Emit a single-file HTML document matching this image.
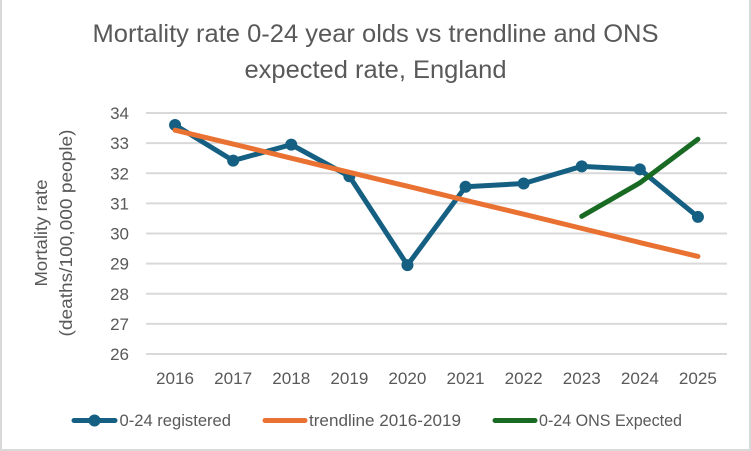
<!DOCTYPE html>
<html lang="en">
<head>
<meta charset="utf-8">
<title>Mortality rate chart</title>
<style>
html,body{margin:0;padding:0;background:#fff;width:751px;height:451px;overflow:hidden}
svg{display:block;font-family:"Liberation Sans",sans-serif}
</style>
</head>
<body>
<svg id="chart" width="751" height="451" viewBox="0 0 751 451" xmlns="http://www.w3.org/2000/svg">
<rect x="1" y="-2" width="749" height="452" fill="#fff" stroke="#d9d9d9" stroke-width="2"/>
<text x="375.500" y="42" text-anchor="middle" font-size="25" fill="#595959" textLength="566" lengthAdjust="spacingAndGlyphs">Mortality rate 0-24 year olds vs trendline and ONS</text>
<text x="375.500" y="78" text-anchor="middle" font-size="25" fill="#595959" textLength="262" lengthAdjust="spacingAndGlyphs">expected rate, England</text>
<text transform="translate(47,233) rotate(-90)" text-anchor="middle" font-size="17.500" fill="#595959" textLength="107" lengthAdjust="spacingAndGlyphs">Mortality rate</text>
<text transform="translate(72,233) rotate(-90)" text-anchor="middle" font-size="17.500" fill="#595959" textLength="207" lengthAdjust="spacingAndGlyphs">(deaths/100,000 people)</text>
<g id="grid"></g>
<g id="series"></g>
<g>
<line x1="74" y1="420.500" x2="115" y2="420.500" stroke="#156082" stroke-width="5" stroke-linecap="round"/>
<circle cx="94.500" cy="420.500" r="6" fill="#156082"/>
<text x="119.500" y="426" font-size="16.500" fill="#595959" textLength="111.500" lengthAdjust="spacingAndGlyphs">0-24 registered</text>
<line x1="265" y1="420.500" x2="305" y2="420.500" stroke="#e97132" stroke-width="5" stroke-linecap="round"/>
<text x="309" y="426" font-size="16.500" fill="#595959" textLength="152" lengthAdjust="spacingAndGlyphs">trendline 2016-2019</text>
<line x1="495" y1="420.500" x2="535" y2="420.500" stroke="#196b24" stroke-width="5" stroke-linecap="round"/>
<text x="539" y="426" font-size="16.500" fill="#595959" textLength="143" lengthAdjust="spacingAndGlyphs">0-24 ONS Expected</text>
</g>
</svg>
<script>
const categories = ["2016","2017","2018","2019","2020","2021","2022","2023","2024","2025"];
const yTickLabels = [26,27,28,29,30,31,32,33,34];
const registered = [33.6,32.42,32.95,31.9,28.95,31.55,31.66,32.23,32.13,30.55];
const trendline = [33.43,32.97,32.5,32.03,31.57,31.1,30.64,30.17,29.7,29.24];
const onsExpected = [null,null,null,null,null,null,null,30.57,31.68,33.13];

const NS = "http://www.w3.org/2000/svg";
const plotLeft = 146, plotRight = 727, plotTop = 113, plotBottom = 354;
const yMin = 26, yMax = 34;
function xScale(i){ return plotLeft + (i + 0.5) * (plotRight - plotLeft) / categories.length; }
function yScale(v){ return plotBottom - (v - yMin) * (plotBottom - plotTop) / (yMax - yMin); }
function make(tag, attrs, parent){
  const el = document.createElementNS(NS, tag);
  for (const k in attrs) el.setAttribute(k, attrs[k]);
  parent.appendChild(el);
  return el;
}
function pointsOf(values){
  const out = [];
  values.forEach(function(v, i){ if (v !== null) out.push(xScale(i) + "," + yScale(v)); });
  return out.join(" ");
}
const grid = document.getElementById("grid");
const series = document.getElementById("series");

yTickLabels.forEach(function(t){
  const y = yScale(t);
  const line = make("line", {x1: plotLeft, x2: plotRight, y1: y, y2: y, stroke: "#d9d9d9", "stroke-width": 2}, grid);
  
  
  const label = make("text", {x: 129, y: y + 6, "text-anchor": "end", "font-size": 17, fill: "#595959"}, grid);
  label.textContent = t;
  
  
});
categories.forEach(function(c, i){
  const label = make("text", {x: xScale(i), y: 384, "text-anchor": "middle", "font-size": 17, fill: "#595959", textLength: 38, lengthAdjust: "spacingAndGlyphs"}, grid);
  label.textContent = c;
  
  
});

const regLine = make("polyline", {points: pointsOf(registered), fill: "none", stroke: "#156082", "stroke-width": 5, "stroke-linejoin": "round", "stroke-linecap": "round"}, series);


registered.forEach(function(v, i){
  const dot = make("circle", {cx: xScale(i), cy: yScale(v), r: 6, fill: "#156082"}, series);
  
  
});
const trendLine = make("polyline", {points: pointsOf(trendline), fill: "none", stroke: "#e97132", "stroke-width": 5, "stroke-linejoin": "round", "stroke-linecap": "round"}, series);


const expLine = make("polyline", {points: pointsOf(onsExpected), fill: "none", stroke: "#196b24", "stroke-width": 5, "stroke-linejoin": "round", "stroke-linecap": "round"}, series);


</script>
</body>
</html>
